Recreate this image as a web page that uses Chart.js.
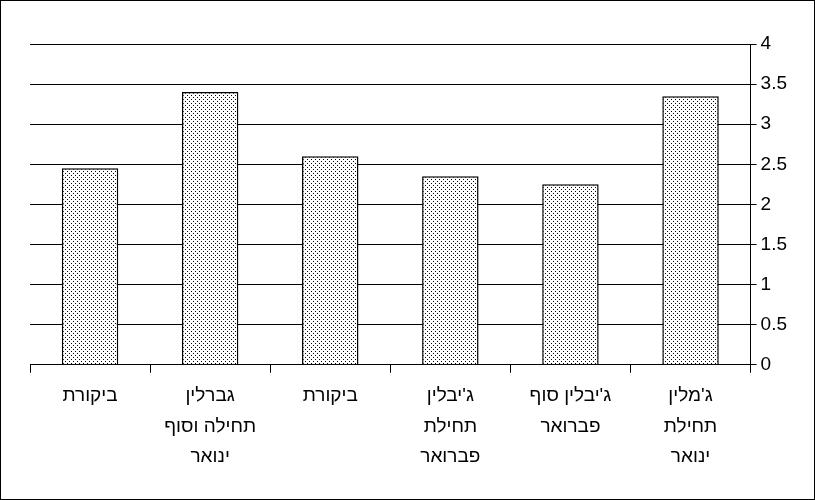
<!DOCTYPE html><html><head><script src="https://cdn.jsdelivr.net/npm/chart.js"></script>
<style>body{margin:0;background:#fff}#w{width:813px;height:498px;border:1px solid #000;position:relative}</style></head><body><div id="w"><canvas id="c" width="813" height="498"></canvas></div>
<script>
const categories=["ביקורת",["גברלין","תחילה וסוף","ינואר"],"ביקורת",["ג'יבלין","תחילת","פברואר"],["ג'יבלין סוף","פברואר"],["ג'מלין","תחילת","ינואר"]];
const values=[2.45,3.4,2.6,2.35,2.25,3.35];
const p=document.createElement('canvas');p.width=4;p.height=4;const g=p.getContext('2d');g.fillStyle='#fff';g.fillRect(0,0,4,4);g.fillStyle='#000';g.fillRect(0,0,1,1);g.fillRect(2,2,1,1);
const pat=g.createPattern(p,'repeat');
new Chart(document.getElementById('c'),{type:'bar',data:{labels:categories,datasets:[{data:values,backgroundColor:pat,borderColor:'#000',borderWidth:1.5,barPercentage:0.47,categoryPercentage:1}]},
options:{responsive:false,animation:false,layout:{padding:{left:29,right:23,top:43,bottom:19}},plugins:{legend:{display:false},tooltip:{enabled:false}},
scales:{x:{grid:{display:true,drawOnChartArea:false,color:'#000',tickLength:8,offset:true},border:{color:'#000'},ticks:{color:'#000',maxRotation:0,padding:8,font:{family:'Liberation Sans',size:19,lineHeight:1.6}}},
y:{position:'right',min:0,max:4,ticks:{stepSize:0.5,color:'#000',callback:v=>String(v),font:{family:'Liberation Sans',size:19},padding:4},grid:{color:'#000',tickLength:6},border:{color:'#000'}}}}});
</script></body></html>
